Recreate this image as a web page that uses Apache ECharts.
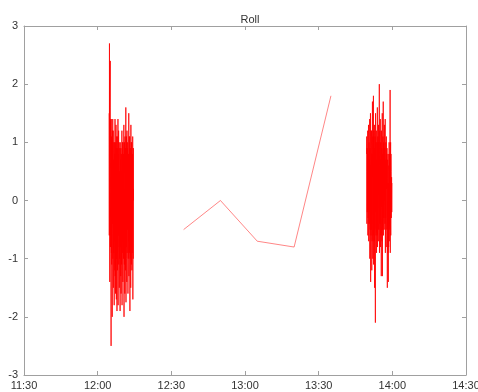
<!DOCTYPE html>
<html>
<head>
<meta charset="utf-8">
<script src="https://cdn.jsdelivr.net/npm/echarts@6/dist/echarts.min.js"></script>
<style>
  html, body { margin: 0; padding: 0; background: #fff; }
  #chart { width: 478px; height: 392px; }
</style>
</head>
<body>
<div id="chart"></div>
<script>
// Roll angle log: two dense logging bursts plus a few sparse fixes in between.
const xTickLabels = ['11:30', '12:00', '12:30', '13:00', '13:30', '14:00', '14:30'];
const yTickLabels = [-3, -2, -1, 0, 1, 2, 3];

// First burst: samples every 4 s starting 12:04:40
const burst1Start = '12:04:40';
const burst1StepSec = 4;
const burst1Values = [
  1.5, -0.6, 2.7, 0.4, -1.4, 1.6,     1.6, 2.4, -0.8, 1.4, 0.2, -0.5,
  -2.5, 1.4, -0.9, 1.1, -1.1, 0.8,    0.9, -2.0, 1.2, -0.4, 1.4, -1.0,
  -0.6, 1.2, -1.5, 0.7, -0.9, 1.0,    0.4, -1.8, 1.0, -0.7, 0.8, -1.2,
  1.4, -1.3, 0.6, -1.6, 1.0, -0.5,    1.3, -0.2, -1.7, 0.9, -1.0, 1.1,
  -1.9, 1.1, 0.3, -1.2, 0.9, -0.8,    1.4, -1.8, 0.8, -0.6, 1.2, -1.1,
  -0.9, 1.0, -1.5, 0.5, -1.0, 0.9,    0.6, -1.9, 1.0, -0.8, 0.7, -1.3,
  0.9, -1.6, -0.3, 0.8, -1.1, 0.4,    1.2, -1.8, 0.5, -0.9, 1.0, -0.6,
  -1.4, 1.0, -0.7, 0.8, -1.0, 0.6,    1.3, -2.0, 0.2, -1.1, 1.0, -0.4,
  -1.6, 1.1, -0.4, 0.9, -1.2, 0.7,    1.6, -1.75, 0.7, -0.8, 1.1, -1.0,
  -1.4, 1.2, -0.9, 0.9, -0.5, 1.0,    1.0, -1.6, 0.5, -1.0, 0.8, -0.7,
  1.5, -1.3, -0.2, 1.1, -0.9, 0.8,    1.1, -1.9, 0.6, -1.0, 0.9, -0.6,
  -1.5, 1.3, -0.8, 1.0, -1.1, 0.7,    1.0, -1.2, 0.4, -0.9, 0.8, -0.5,
  1.1, -1.7, 0.2, -1.0, 0.9, 0.0
];

// Sparse fixes between the bursts
const sparseTimes = ['12:35', '12:50', '13:05', '13:20', '13:35'];
const sparseValues = [-0.5, 0.0, -0.7, -0.8, 1.8];

// Second burst: samples every 4 s starting 13:49:30
const burst2Start = '13:49:30';
const burst2StepSec = 4;
const burst2Values = [
  0.8, 1.1, -0.4, 0.5, 0.9, -0.2,     0.3, 1.2, -0.6, 0.8, -0.3, 1.0,
  1.3, -0.7, 0.5, 1.0, -0.4, 0.7,     -0.2, 1.4, -1.0, 0.9, -0.5, 1.1,
  1.5, -1.4, 0.6, -0.6, 1.2, -0.3,    -0.5, 1.2, -1.2, 0.8, -0.7, 1.0,
  1.7, -0.3, -1.0, 1.1, -0.6, 0.9,    1.8, -1.1, 0.4, 1.2, -0.7, 0.8,
  1.3, -1.5, 0.9, -0.5, 1.1, -0.8,    -2.1, 1.5, -0.2, 1.0, -0.6, 0.7,
  1.2, -0.9, 0.7, -0.4, 1.0, -0.6,    1.6, -0.8, 0.3, 1.1, -0.5, 0.9,
  -0.7, 1.3, 0.1, 1.0, -0.5, 0.8,     2.0, -0.9, 0.6, 1.2, -0.4, 0.9,
  1.4, -0.8, 0.2, 1.0, -0.6, 0.7,     -1.3, 1.2, -0.1, 0.9, -0.7, 1.0,
  1.5, -1.3, 0.8, -0.5, 1.1, -0.3,    1.7, -0.6, 0.4, 1.0, -0.3, 0.8,
  -0.5, 1.3, 0.0, 0.9, -0.4, 1.1,     1.4, -0.9, 0.7, -0.3, 1.0, -0.6,
  -0.8, 1.1, 0.2, 0.8, -0.5, 0.9,     0.9, -1.5, -0.3, 0.7, -0.9, 0.5,
  0.8, -1.4, 0.3, -0.8, 0.6, -0.4,    1.0, -0.7, -0.1, 0.8, -0.5, 0.6,
  1.9, -0.9, 0.5, 1.0, -0.6, 0.8,     0.5, -0.3, 0.1, 0.4, -0.2, 0.3
];

// Clock-time helpers: the x axis runs in minutes after midnight.
function toMinutes(hms) {
  const p = hms.split(':').map(Number);
  return p[0] * 60 + p[1] + (p[2] || 0) / 60;
}
function fromMinutes(m) {
  const h = Math.floor(m / 60), mm = Math.round(m - h * 60);
  return String(h).padStart(2, '0') + ':' + String(mm).padStart(2, '0');
}
function burst(start, stepSec, values) {
  const t0 = toMinutes(start);
  return values.map((v, i) => [t0 + i * stepSec / 60, v]);
}

const xMin = toMinutes(xTickLabels[0]);
const xMax = toMinutes(xTickLabels[xTickLabels.length - 1]);

const axisColor = '#a0a0a0';
const labelStyle = { color: '#333', fontSize: 11, fontFamily: 'Liberation Sans, Arial, sans-serif' };

function frameAxis(extra) {
  return Object.assign({
    axisLine: { show: true, onZero: false, lineStyle: { color: axisColor } },
    axisTick: { show: true, inside: true, length: 4, lineStyle: { color: axisColor } },
    splitLine: { show: false }
  }, extra);
}

const chart = echarts.init(document.getElementById('chart'), null, { renderer: 'canvas' });
chart.setOption({
  animation: false,
  backgroundColor: '#fff',
  title: {
    text: 'Roll',
    left: 245, top: 9, textAlign: 'center',
    textStyle: { fontSize: 11, fontWeight: 'normal', color: '#333', fontFamily: 'Liberation Sans, Arial, sans-serif' }
  },
  grid: { left: 24, right: 12, top: 26, bottom: 17, containLabel: false, outerBoundsMode: 'none' },
  xAxis: [
    frameAxis({
      type: 'value', min: xMin, max: xMax, interval: 30, position: 'bottom',
      axisLabel: Object.assign({ margin: 5, formatter: v => fromMinutes(v), showMinLabel: true, showMaxLabel: true }, labelStyle)
    }),
    frameAxis({
      type: 'value', min: xMin, max: xMax, interval: 30, position: 'top',
      axisLabel: { show: false }
    })
  ],
  yAxis: [
    frameAxis({
      type: 'value', min: yTickLabels[0], max: yTickLabels[yTickLabels.length - 1], interval: 1, position: 'left',
      axisLabel: Object.assign({ margin: 6 }, labelStyle)
    }),
    frameAxis({
      type: 'value', min: yTickLabels[0], max: yTickLabels[yTickLabels.length - 1], interval: 1, position: 'right',
      axisLabel: { show: false }
    })
  ],
  series: [
    {
      type: 'line', xAxisIndex: 0, yAxisIndex: 0, showSymbol: false, symbol: 'none',
      data: burst(burst1Start, burst1StepSec, burst1Values),
      lineStyle: { color: '#ff0000', width: 0.8 }
    },
    {
      type: 'line', xAxisIndex: 0, yAxisIndex: 0, showSymbol: false, symbol: 'none',
      data: sparseTimes.map((t, i) => [toMinutes(t), sparseValues[i]]),
      lineStyle: { color: '#ff0000', width: 0.6, opacity: 0.8 }
    },
    {
      type: 'line', xAxisIndex: 0, yAxisIndex: 0, showSymbol: false, symbol: 'none',
      data: burst(burst2Start, burst2StepSec, burst2Values),
      lineStyle: { color: '#ff0000', width: 0.8 }
    }
  ]
});
</script>
</body>
</html>
